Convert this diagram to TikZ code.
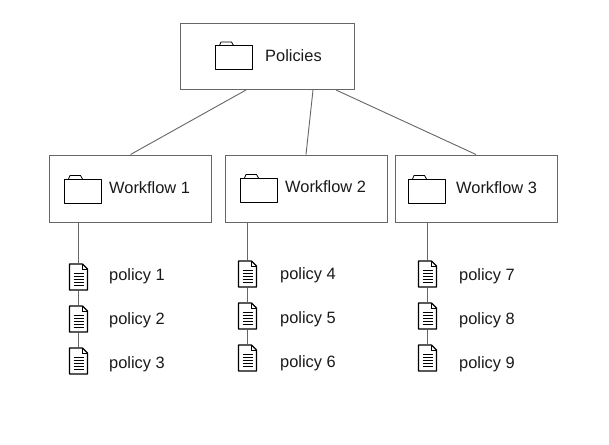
\documentclass[tikz,border=0pt]{standalone}
\usepackage{fontspec}
\setmainfont{Liberation Sans}
\usetikzlibrary{positioning}
\definecolor{linegray}{HTML}{666666}
\definecolor{inkdark}{HTML}{1A1A1A}
\tikzset{
  x=1pt,y=-1pt,
  boxnode/.style={draw=linegray,line width=1pt,fill=white,minimum width=#1,minimum height=66pt,inner sep=0pt},
  link/.style={draw=linegray,line width=0.9pt},
  label/.style={inner sep=0pt,font=\fontsize{16.4}{18}\selectfont,text=inkdark,anchor=west},
  docbox/.style={inner sep=0pt,minimum width=19pt,minimum height=27pt},
  foldericon/.pic={
    \draw[black,line width=0.8pt,fill=white,line join=round]
      (-18.5,-10) -- (18.5,-10) -- (18.5,14) -- (-18.5,14) -- cycle;
    \draw[black,line width=0.8pt,line join=round]
      (-14,-10) -- (-12.5,-13.5) -- (-2,-13.5) -- (0,-10);
  },
  docicon/.pic={
    \draw[black,line width=1.2pt,fill=white,line join=round]
      (-9,-13) -- (4,-13) -- (9,-8) -- (9,13) -- (-9,13) -- cycle;
    \draw[black,line width=0.7pt] (4,-13) -- (4,-8) -- (9,-8);
    \foreach \yy in {-4,-1,2,5,8}
      \draw[black,line width=0.7pt] (-5,\yy) -- (5,\yy);
  }
}
\begin{document}
\begin{tikzpicture}
\useasboundingbox (0,0) rectangle (609,444);
\fill[white] (0,0) rectangle (609,444);

\node[boxnode=174pt] (root) at (267.5,56.5) {};
\node[boxnode=162pt,minimum height=67pt] (w1) at (130.5,188.5) {};
\node[boxnode=162pt,minimum height=67pt] (w2) at (306,188.5) {};
\node[boxnode=162pt,minimum height=67pt] (w3) at (476,188.5) {};

\draw[link] ([xshift=-21.5pt]root.south) -- (w1.north);
\draw[link] ([xshift=45.5pt]root.south) -- (w2.north);
\draw[link] ([xshift=68.5pt]root.south) -- (w3.north);

\pic at (233.5,55.5) {foldericon};
\pic at (82.5,189) {foldericon};
\pic at (258.5,188) {foldericon};
\pic at (426.5,189) {foldericon};

\node[label] (troot) at (265,56) {Policies};
\node[label] (tw1) at (109,188) {Workflow 1};
\node[label] (tw2) at (285,187) {Workflow 2};
\node[label] (tw3) at (456,188) {Workflow 3};

\node[docbox] (d1) at (78.5,277) {};
\node[docbox] (d2) at (78.5,319) {};
\node[docbox] (d3) at (78.5,361) {};
\node[docbox] (d4) at (247.5,274) {};
\node[docbox] (d5) at (247.5,316) {};
\node[docbox] (d6) at (247.5,358) {};
\node[docbox] (d7) at (427.5,274) {};
\node[docbox] (d8) at (427.5,316) {};
\node[docbox] (d9) at (427.5,358) {};

\draw[link] (d1.north |- w1.south) -- (d1.north);
\draw[link] (d1) -- (d2);
\draw[link] (d2) -- (d3);
\draw[link] (d4.north |- w2.south) -- (d4.north);
\draw[link] (d4) -- (d5);
\draw[link] (d5) -- (d6);
\draw[link] (d7.north |- w3.south) -- (d7.north);
\draw[link] (d7) -- (d8);
\draw[link] (d8) -- (d9);

\foreach \n in {1,...,9}
  \pic at (d\n) {docicon};

\node[label] (p1) at (109,276) {policy 1};
\node[label] (p2) at (109,320) {policy 2};
\node[label] (p3) at (109,364) {policy 3};
\node[label] (p4) at (280,275) {policy 4};
\node[label] (p5) at (280,319) {policy 5};
\node[label] (p6) at (280,363) {policy 6};
\node[label] (p7) at (459,276) {policy 7};
\node[label] (p8) at (459,320) {policy 8};
\node[label] (p9) at (459,364) {policy 9};
\end{tikzpicture}
\end{document}
